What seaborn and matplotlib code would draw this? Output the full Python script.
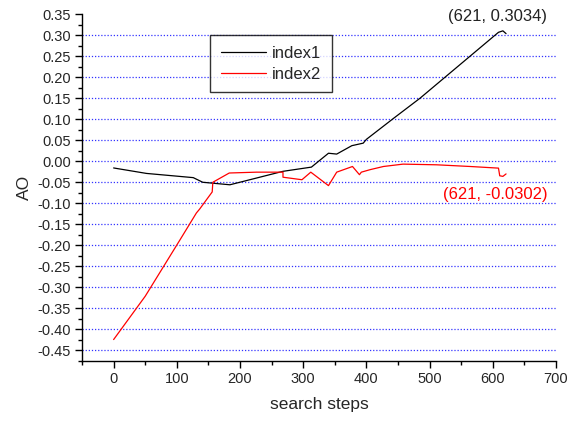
import numpy as np
import pandas as pd
import matplotlib
matplotlib.use("Agg")
import matplotlib.pyplot as plt
from matplotlib.ticker import MultipleLocator
import seaborn as sns

# AO values along the search for two indices
idx1_steps = [0, 52, 126, 141, 184, 268, 313, 340, 353, 377, 395, 400, 443, 485, 609, 616, 621]
idx1_ao = [-0.016, -0.029, -0.039, -0.050, -0.056, -0.024, -0.014, 0.019, 0.017, 0.037, 0.043,
           0.052, 0.102, 0.150, 0.3065, 0.310, 0.3034]

idx2_steps = [0, 50, 105, 131, 136, 156, 157, 183, 226, 268, 268, 298, 312, 340, 353, 378, 389,
              392, 406, 427, 458, 511, 564, 609, 611, 616, 621]
idx2_ao = [-0.424, -0.321, -0.187, -0.123, -0.114, -0.073, -0.050, -0.028, -0.026, -0.026, -0.038,
           -0.044, -0.026, -0.058, -0.026, -0.0125, -0.032, -0.026, -0.020, -0.0125, -0.0069,
           -0.0085, -0.0125, -0.0164, -0.0346, -0.036, -0.0302]

series_names = ["index1", "index2"]
end_labels = ["(621, 0.3034)", "(621, -0.0302)"]
y_ticks = [round(v, 2) + 0.0 for v in np.arange(-0.45, 0.351, 0.05)]
x_ticks = [0, 100, 200, 300, 400, 500, 600, 700]

df = pd.concat([
    pd.DataFrame({"step": idx1_steps, "AO": idx1_ao, "series": series_names[0]}),
    pd.DataFrame({"step": idx2_steps, "AO": idx2_ao, "series": series_names[1]}),
], ignore_index=True)

sns.set_style("white")
plt.rcParams["font.family"] = ["Liberation Sans", "DejaVu Sans"]

fig = plt.figure(figsize=(5.70, 4.21), dpi=100)
ax = fig.add_axes([0.1439, 0.1425, 0.8315, 0.8242])

# dotted blue reference lines at the major y ticks
for v in y_ticks:
    if v < 0.34:
        ax.axhline(v, color="#3333ff", lw=0.9, ls=(0, (1, 1.5)), zorder=0)

sns.lineplot(data=df, x="step", y="AO", hue="series", estimator=None, sort=False,
             palette={"index1": "black", "index2": "red"}, lw=0.9, ax=ax, legend=False)

ax.set_xlim(-50, 700)
ax.set_ylim(-0.475, 0.35)
ax.set_xticks(x_ticks)
ax.set_yticks(y_ticks)
ax.set_yticklabels([f"{abs(v):.2f}" if abs(v) < 1e-9 else f"{v:.2f}" for v in y_ticks])
ax.xaxis.set_minor_locator(MultipleLocator(50))
ax.yaxis.set_minor_locator(MultipleLocator(0.025))
ax.tick_params(axis="both", which="major", direction="out", length=5, width=1,
               labelsize=10.5, color="black", bottom=True, left=True, pad=3)
ax.tick_params(axis="both", which="minor", direction="out", length=3, width=1,
               color="black", bottom=True, left=True)

for side in ["top", "right"]:
    ax.spines[side].set_visible(False)
for side in ["left", "bottom"]:
    ax.spines[side].set_color("black")
    ax.spines[side].set_linewidth(1)

ax.set_xlabel("search steps", fontsize=12.5, labelpad=8)
ax.set_ylabel("AO", fontsize=12.5, labelpad=4)

ax.text(686, 0.3436, end_labels[0], color="#222222", fontsize=12,
        ha="right", va="center")
ax.text(686, -0.0797, end_labels[1], color="red", fontsize=12,
        ha="right", va="center")

handles = [plt.Line2D([], [], color="black", lw=0.9), plt.Line2D([], [], color="red", lw=0.9)]
leg = ax.legend(handles, series_names, loc="upper left", bbox_to_anchor=(0.27, 0.94),
                borderaxespad=0, fontsize=12, frameon=True, fancybox=False,
                handlelength=2.7, handletextpad=0.35, borderpad=0.65, labelspacing=0.35)
leg.get_frame().set_edgecolor("black")
leg.get_frame().set_linewidth(1)

fig.savefig("out.png", dpi=100)
